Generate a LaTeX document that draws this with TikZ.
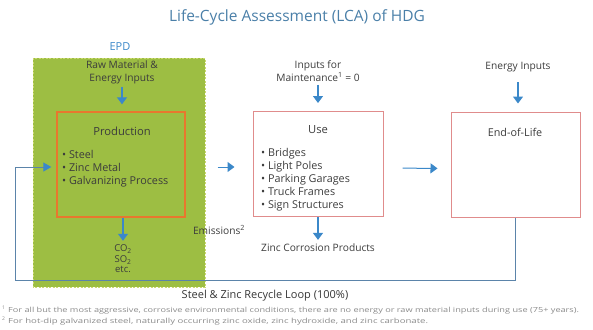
\documentclass[tikz,border=0pt]{standalone}
\usepackage{fontspec}
\setmainfont{Open Sans}
\usetikzlibrary{arrows.meta,positioning}

\definecolor{titleblue}{HTML}{4A7FA8}
\definecolor{epdgreen}{HTML}{9DBE43}
\definecolor{epdedge}{HTML}{CAD96F}
\definecolor{prodorange}{HTML}{E8772E}
\definecolor{stagered}{HTML}{E08C8C}
\definecolor{flowblue}{HTML}{3B88C9}
\definecolor{loopblue}{HTML}{5B84AA}
\definecolor{txtgray}{HTML}{3C3C3C}
\definecolor{notegray}{HTML}{8A8A8A}

\newcommand{\wide}[2][1.37]{\scalebox{#1}[1]{#2}}

\begin{document}
\begin{tikzpicture}[x=1pt,y=-1pt,>=Stealth,
  stagebox/.style={draw=stagered,line width=1pt,minimum width=#1,minimum height=105pt,inner sep=0pt},
  prodbox/.style={draw=prodorange,line width=1.4pt,minimum width=128pt,minimum height=105pt,inner sep=0pt},
  lbl/.style={text=txtgray,font=\fontsize{10.2}{13}\selectfont,align=center,inner sep=1pt},
  head/.style={text=txtgray,font=\fontsize{11.2}{13}\selectfont,inner sep=1pt},
  bullets/.style={text=txtgray,font=\fontsize{10.8}{12.8}\selectfont,align=left,anchor=north west,inner sep=0pt},
  inarrow/.style={draw=flowblue,line width=1.3pt,-{Triangle[width=10pt,length=7pt]}},
  loopline/.style={draw=loopblue,line width=1pt,-{Triangle[width=9pt,length=8pt,color=flowblue,fill=flowblue]}},
  note/.style={text=notegray,font=\fontsize{7}{8}\selectfont,anchor=west,inner sep=0pt}]
  \useasboundingbox (0,0) rectangle (593,329);

  \node[text=titleblue,font=\fontsize{15.5}{18}\selectfont] (title) at (297,17) {Life-Cycle Assessment (LCA) of HDG};

  % EPD boundary
  \draw[fill=epdgreen,draw=epdedge,line width=1pt,dash pattern=on 2pt off 1.5pt] (33,58) rectangle (205,287);
  \node[text=flowblue,font=\fontsize{11}{12}\selectfont] (epd) at (120,47) {EPD};

  % stages
  \node[prodbox] (prod) at (121,164.5) {};
  \node[stagebox=130pt] (use) at (318,164) {};
  \node[stagebox=129pt] (eol) at (515.5,164.5) {};

  \node[head] (prodtitle) at (122,131) {Production};
  \node[bullets] (prodlist) at (62,150.5) {\textbullet{} Steel\\\textbullet{} Zinc Metal\\\textbullet{} Galvanizing Process};
  \node[head] (usetitle) at (318,130) {Use};
  \node[bullets] (uselist) at (261,148.5) {\textbullet{} Bridges\\\textbullet{} Light Poles\\\textbullet{} Parking Garages\\\textbullet{} Truck Frames\\\textbullet{} Sign Structures};
  \node[head,font=\fontsize{10.8}{13}\selectfont] (eoltitle) at (515,132) {End-of-Life};

  % inputs
  \node[lbl] (raw) at (122,72) {Raw Material \&\\Energy Inputs};
  \node[lbl] (maint) at (318,71) {Inputs for\\Maintenance\textsuperscript{1} = 0};
  \node[lbl] (energy) at (518,67) {Energy Inputs};
  \draw[inarrow,shorten <=2pt,shorten >=7pt] (raw.south) -- (raw.south |- prod.north);
  \draw[inarrow,shorten <=2pt,shorten >=8pt] (maint.south) -- (maint.south |- use.north);
  \draw[inarrow,shorten <=9pt,shorten >=8pt] (energy.south) -- (energy.south |- eol.north);

  % outputs
  \node[lbl,font=\fontsize{9.5}{10.5}\selectfont] (gases) at (123,259) {CO\textsubscript{2}\\SO\textsubscript{2}\\etc.};
  \node[lbl] (emis) at (219,230) {Emissions\textsuperscript{2}};
  \node[lbl] (zinc) at (318,248) {Zinc Corrosion Products};
  \draw[inarrow,shorten >=3pt] (gases.north |- prod.south) -- (gases.north);
  \draw[inarrow,shorten >=3pt] (use.south) -- (zinc.north);

  % flow between stages
  \draw[inarrow,line width=1pt,shorten <=32pt,shorten >=18pt] ([yshift=-2.5pt]prod.east) -- ([yshift=-3pt]use.west);
  \draw[inarrow,line width=1pt,shorten <=19pt,shorten >=13pt] ([yshift=-4pt]use.east) -- ([yshift=-4pt]eol.west);

  % recycle loop
  \coordinate (loopcorner) at (15,280);
  \draw[loopline,shorten >=5pt] (eol.south) |- (loopcorner) |- ([yshift=-2.5pt]prod.west);
  \node[text=txtgray!90!black,font=\fontsize{11}{12}\selectfont] (looplbl) at (265,296) {Steel \& Zinc Recycle Loop (100\%)};

  % footnotes
  \node[note] (note1) at (8,311) {\wide[1.31]{For all but the most aggressive, corrosive environmental conditions, there are no energy or raw material inputs during use (75+ years).}};
  \node[note] (note2) at (8,322) {\wide{For hot-dip galvanized steel, naturally occurring zinc oxide, zinc hydroxide, and zinc carbonate.}};
  \node[note,font=\fontsize{5}{6}\selectfont] (mark1) at (2,308) {1};
  \node[note,font=\fontsize{5}{6}\selectfont] (mark2) at (2,319) {2};
\end{tikzpicture}
\end{document}
